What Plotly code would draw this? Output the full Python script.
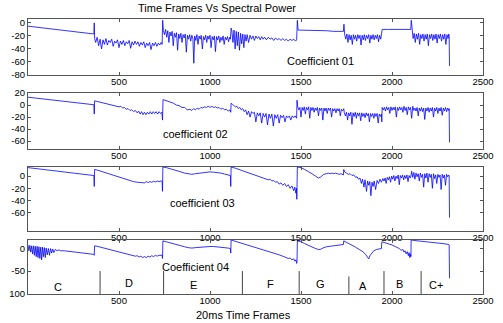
import plotly.graph_objects as go
from plotly.subplots import make_subplots

# ---------------- data (frame, spectral power) ----------------
coef1 = [
    (0, -5), (60, -7), (120, -9), (180, -10), (240, -12), (300, -14), (340, -16), (362, -17),
    (364, 0), (366, -24),
    (372, -30), (380, -22), (388, -35), (396, -25), (404, -40), (412, -26), (420, -33), (428, -24),
    (436, -34), (444, -27), (452, -30), (460, -25), (468, -36), (476, -28), (484, -31), (492, -26),
    (500, -38), (508, -28), (516, -33), (524, -27), (532, -35), (540, -29), (548, -32), (556, -27),
    (564, -39), (572, -29), (580, -34), (588, -28), (596, -33), (604, -29), (612, -36), (620, -30),
    (628, -34), (636, -29), (644, -38), (652, -31), (660, -35), (668, -30), (676, -41), (684, -31),
    (692, -35), (700, -30), (708, -36), (716, -31), (724, -34), (732, -30), (737, -33),
    (740, 4), (744, -12),
    (750, -18), (756, -10), (762, -22), (768, -12), (774, -30), (780, -14), (786, -20), (792, -13),
    (798, -35), (804, -16), (810, -22), (816, -15), (822, -42), (828, -17), (834, -24), (840, -16),
    (846, -30), (852, -18), (858, -23), (864, -17), (870, -45), (876, -19), (882, -25), (888, -18),
    (894, -28), (900, -19), (906, -24), (911, -62), (916, -20), (922, -27), (928, -18), (934, -33),
    (940, -20), (946, -25), (952, -19), (958, -40), (964, -21), (970, -26), (976, -19), (982, -30),
    (988, -20), (994, -25), (1000, -19), (1006, -38), (1012, -21), (1018, -26), (1024, -20),
    (1030, -44), (1036, -21), (1042, -26), (1048, -20), (1054, -30), (1060, -22), (1066, -27),
    (1072, -20), (1078, -33), (1084, -22), (1090, -26), (1096, -21), (1102, -29), (1108, -22),
    (1112, -25),
    (1116, -8), (1120, -12),
    (1126, -30), (1132, -11), (1138, -40), (1144, -13), (1150, -35), (1156, -14), (1162, -42),
    (1168, -16), (1174, -32), (1180, -17), (1186, -38), (1192, -18), (1198, -28), (1204, -18),
    (1212, -30), (1220, -19), (1228, -25), (1236, -20), (1244, -27), (1252, -20), (1260, -24),
    (1268, -21), (1276, -26), (1284, -21), (1292, -25), (1300, -22), (1310, -26), (1320, -22),
    (1330, -25), (1340, -23), (1350, -27), (1360, -23), (1370, -26), (1380, -24), (1390, -27),
    (1400, -24), (1410, -27), (1420, -25), (1430, -28), (1440, -25), (1450, -27), (1460, -25),
    (1470, -28), (1476, -26),
    (1480, 4), (1484, -11),
    (1520, -11), (1560, -12), (1600, -12), (1640, -12), (1680, -13), (1720, -13), (1733, -13),
    (1736, -2), (1740, -18),
    (1746, -25), (1752, -17), (1758, -30), (1764, -18), (1770, -26), (1776, -19), (1782, -33),
    (1788, -18), (1794, -25), (1800, -19), (1806, -28), (1812, -18), (1818, -24), (1824, -19),
    (1830, -34), (1836, -19), (1842, -26), (1848, -18), (1854, -27), (1860, -19), (1866, -24),
    (1872, -18), (1878, -31), (1884, -19), (1890, -25), (1896, -18), (1902, -26), (1908, -19),
    (1914, -24), (1920, -18), (1926, -29), (1932, -19), (1938, -25), (1942, -18),
    (1946, -10), (1980, -10), (2020, -10), (2060, -10), (2100, -10), (2103, -10),
    (2106, 4), (2110, -15),
    (2116, -24), (2122, -16), (2128, -30), (2134, -17), (2140, -25), (2146, -16), (2152, -33),
    (2158, -18), (2164, -24), (2170, -17), (2176, -28), (2182, -18), (2188, -25), (2194, -17),
    (2200, -35), (2206, -18), (2212, -24), (2218, -17), (2224, -27), (2230, -18), (2236, -25),
    (2242, -17), (2248, -31), (2254, -18), (2260, -24), (2266, -17), (2272, -28), (2278, -18),
    (2284, -25), (2290, -17), (2296, -33), (2302, -18), (2308, -24), (2312, -17),
    (2314, -20), (2316, -66),
]

coef2 = [
    (0, 13), (60, 11), (120, 9), (180, 7), (240, 5), (300, 3), (340, 1.5), (362, 0.5),
    (364, -15), (366, 7),
    (380, 6), (400, 4.5), (420, 3), (440, 1.5), (460, 0), (480, -1.5), (500, -3), (510, -2),
    (520, -5), (530, -4), (540, -7), (550, -6), (560, -9), (570, -8), (580, -11), (590, -9),
    (600, -13), (608, -10), (616, -15), (624, -11), (632, -16), (640, -12), (648, -16), (656, -12),
    (664, -15), (672, -11), (680, -15), (688, -11), (696, -14), (704, -11), (712, -15), (720, -11),
    (728, -14), (736, -12),
    (739, -25), (742, 9),
    (760, 7), (780, 5), (800, 3), (815, 0), (830, -1), (845, -4), (860, -4), (875, -8), (890, -7),
    (900, -9), (910, -6), (920, -8), (930, -5), (940, -7), (950, -4), (960, -5), (970, -3),
    (980, -4), (990, -2), (1000, -4), (1010, -2), (1020, -4), (1030, -3), (1040, -5), (1050, -4),
    (1060, -7), (1070, -5), (1080, -8), (1090, -7), (1100, -10), (1110, -8),
    (1114, -12), (1116, 3),
    (1124, 1), (1132, -1), (1140, -3), (1148, -2), (1156, -6), (1164, -4), (1172, -8), (1180, -6),
    (1188, -11), (1196, -8), (1204, -16), (1212, -10), (1220, -20), (1228, -11), (1236, -14),
    (1244, -12), (1252, -28), (1260, -13), (1268, -18), (1276, -13), (1284, -30), (1292, -14),
    (1300, -20), (1308, -14), (1316, -33), (1324, -15), (1332, -22), (1340, -15), (1348, -35),
    (1356, -16), (1364, -22), (1372, -16), (1380, -30), (1388, -17), (1396, -21), (1404, -17),
    (1412, -28), (1420, -18), (1428, -21), (1436, -18), (1444, -25), (1452, -18), (1460, -21),
    (1468, -18), (1476, -22),
    (1478, 8), (1482, -3),
    (1488, -8), (1494, -4), (1500, -20), (1506, -4), (1512, -9), (1518, -3), (1524, -15),
    (1530, -4), (1536, -8), (1542, -3), (1548, -22), (1554, -4), (1560, -9), (1566, -4),
    (1572, -12), (1578, -5), (1584, -9), (1590, -4), (1596, -18), (1602, -5), (1608, -9),
    (1614, -5), (1620, -25), (1626, -5), (1632, -10), (1638, -5), (1644, -14), (1650, -5),
    (1656, -9), (1662, -5), (1668, -20), (1674, -6), (1680, -10), (1686, -6), (1692, -13),
    (1698, -6), (1704, -10), (1710, -6), (1716, -18), (1722, -7), (1728, -10), (1733, -7),
    (1735, -6), (1738, -13),
    (1744, -18), (1750, -12), (1756, -25), (1762, -13), (1768, -18), (1774, -12), (1780, -32),
    (1786, -13), (1792, -19), (1798, -12), (1804, -22), (1810, -13), (1816, -18), (1822, -13),
    (1828, -26), (1834, -13), (1840, -19), (1846, -14), (1852, -21), (1858, -13), (1864, -18),
    (1870, -14), (1876, -28), (1882, -14), (1888, -19), (1894, -14), (1900, -22), (1906, -14),
    (1912, -19), (1918, -14), (1924, -30), (1930, -15), (1936, -19), (1942, -15),
    (1944, -28), (1946, -4),
    (1952, -8), (1958, -4), (1964, -10), (1970, -3), (1976, -8), (1982, -4), (1988, -14),
    (1994, -3), (2000, -9), (2006, -4), (2012, -8), (2018, -3), (2024, -20), (2030, -4),
    (2036, -9), (2042, -3), (2048, -8), (2054, -4), (2060, -12), (2066, -2), (2072, -9),
    (2078, -4), (2084, -16), (2090, -3), (2096, -8), (2102, -4), (2108, -22), (2114, -2),
    (2120, -9), (2126, -5), (2132, -10), (2138, -4), (2144, -18), (2150, -5), (2156, -10),
    (2162, -4), (2168, -11), (2174, -5), (2180, -24), (2186, -5), (2192, -10), (2198, -4),
    (2204, -12), (2210, -5), (2216, -10), (2222, -4), (2228, -20), (2234, -5), (2240, -10),
    (2246, -4), (2252, -14), (2258, -5), (2264, -10), (2270, -4), (2276, -17), (2282, -5),
    (2288, -10), (2294, -4), (2300, -11), (2306, -5), (2312, -9),
    (2314, -6), (2316, -62),
]

coef3 = [
    (0, 14), (60, 12), (120, 10), (180, 8), (240, 6), (300, 4), (340, 2), (362, 1),
    (364, -17), (366, 11),
    (380, 10), (400, 8), (420, 6), (440, 4), (460, 2), (480, 0), (500, -2), (520, -4), (540, -6),
    (560, -7), (580, -9), (600, -10), (620, -10.5), (640, -11), (650, -9), (660, -10.5), (670, -9),
    (680, -10), (690, -8.5), (700, -9.5), (710, -8), (720, -9), (730, -8), (737, -8.5),
    (739, -25), (741, 15),
    (760, 14), (780, 12.5), (800, 11), (820, 9), (840, 7), (860, 5), (880, 3.5), (900, 3),
    (920, 4), (940, 5), (960, 6), (980, 6.5), (1000, 7), (1020, 6.5), (1040, 6), (1060, 5),
    (1080, 3.5), (1100, 2), (1112, 1),
    (1114, -17), (1116, 15),
    (1140, 13), (1170, 10), (1200, 7), (1230, 4), (1260, 1), (1290, -2), (1310, -4), (1320, -6),
    (1330, -5), (1340, -8), (1350, -7), (1360, -10), (1370, -9), (1380, -13), (1390, -11),
    (1400, -15), (1410, -12), (1420, -17), (1430, -14), (1440, -20), (1450, -16), (1460, -24),
    (1466, -18), (1472, -28), (1476, -20),
    (1477, -38), (1480, 15),
    (1500, 14), (1520, 11), (1540, 8), (1560, 4), (1580, 0), (1595, -3), (1605, -2), (1615, 0),
    (1625, 3), (1640, 4), (1650, 5), (1660, 4), (1670, 5), (1680, 4), (1690, 5), (1700, 4),
    (1710, 3), (1720, 4), (1733, 2),
    (1735, 11),
    (1740, 7), (1750, 5), (1760, 3), (1770, 4), (1780, 1), (1790, 2), (1800, -2), (1808, -1),
    (1816, -5), (1824, -3), (1832, -12), (1838, -5), (1846, -18), (1852, -6), (1860, -25),
    (1866, -8), (1872, -15), (1878, -9), (1884, -32), (1890, -10), (1896, -17), (1902, -8),
    (1910, -22), (1918, -7), (1926, -12), (1934, -5), (1942, -10),
    (1950, -4), (1956, -8), (1962, -3), (1968, -12), (1974, -2), (1980, -6), (1986, -1),
    (1992, -10), (1998, 0), (2004, -5), (2010, 1), (2016, -8), (2022, 0), (2028, -4), (2034, 2),
    (2040, -14), (2046, 1), (2052, -3), (2058, 2), (2064, -6), (2070, 1), (2076, -4), (2082, 2),
    (2088, -9), (2094, 1), (2100, -3), (2104, 0),
    (2108, 8), (2114, -2), (2120, 6), (2126, -5), (2132, 5), (2138, -1), (2144, 4), (2150, -8),
    (2156, 5), (2162, -2), (2168, 3), (2174, -18), (2180, 4), (2186, -3), (2192, 5), (2198, -10),
    (2204, 4), (2210, -2), (2216, 3), (2222, -20), (2228, 4), (2234, -4), (2240, 2), (2246, -12),
    (2252, 3), (2258, -2), (2264, 2), (2270, -22), (2276, 3), (2282, -3), (2288, 2), (2294, -15),
    (2300, 3), (2306, -1), (2312, 2),
    (2314, 0), (2316, -68),
]

coef4 = [
    (0, 8), (5, -5), (10, 7), (15, -8), (20, 6), (25, -12), (30, 6), (35, -15), (40, 5),
    (45, -18), (50, 5), (55, -20), (60, 4), (65, -22), (70, 3), (75, -25), (80, 3), (85, -18),
    (90, 2), (95, -20), (100, 1), (106, -14), (112, 0), (118, -15), (124, 0), (130, -10),
    (136, -1), (142, -9), (150, -2), (160, -5), (170, -3), (180, -5), (200, -5), (220, -6),
    (240, -7), (260, -8), (280, -9), (300, -10), (320, -11), (340, -12), (362, -13),
    (364, -15), (366, 6),
    (380, 5), (400, 3), (420, 1), (440, -1), (460, -3), (480, -5), (500, -7), (520, -9),
    (540, -11), (560, -13), (580, -15), (590, -17), (600, -16), (610, -19), (620, -17),
    (630, -20), (640, -18), (650, -20), (660, -17), (670, -19), (680, -16), (690, -18),
    (700, -15), (710, -17), (720, -15), (730, -16), (737, -15),
    (739, -22), (741, 17),
    (760, 15), (780, 12.5), (800, 10), (820, 8), (840, 6), (860, 4), (880, 2), (900, 1),
    (920, 2), (940, 3), (960, 4), (980, 4.5), (1000, 4.5), (1020, 4.5), (1040, 4), (1060, 3),
    (1080, 2), (1100, 1), (1112, 0),
    (1114, -10), (1116, 19),
    (1140, 16), (1170, 13), (1200, 9), (1230, 6), (1260, 2), (1290, -2), (1320, -6), (1350, -10),
    (1380, -14), (1400, -17), (1420, -20), (1430, -22), (1440, -21), (1450, -25), (1460, -23),
    (1466, -28), (1472, -25), (1476, -33),
    (1478, -30), (1480, 17),
    (1500, 15), (1520, 11), (1540, 7), (1560, 3), (1580, 0), (1595, -2), (1605, -2), (1620, 1),
    (1640, 4), (1660, 5), (1680, 6), (1700, 7), (1720, 8), (1733, 9),
    (1735, 17),
    (1740, 16), (1760, 12), (1780, 8), (1800, 3), (1820, -2), (1840, -7), (1855, -13),
    (1865, -18), (1872, -23), (1880, -15), (1890, -9), (1900, -5), (1915, -2), (1930, 0),
    (1942, 0),
    (1944, 15),
    (1960, 13), (1980, 11), (2000, 8), (2020, 4), (2040, 0), (2050, -4), (2060, -2), (2066, -8),
    (2072, -5), (2078, -12), (2084, -7), (2090, -16), (2094, -9), (2098, -20), (2102, -12),
    (2104, -18),
    (2105, 19),
    (2120, 18), (2160, 16.5), (2200, 15), (2240, 13), (2280, 11), (2312, 9),
    (2314, 8), (2316, -66),
]

series = [coef1, coef2, coef3, coef4]
coef_labels = ["Coefficient 01", "coefficient 02", "coefficient 03", "Coefficient 04"]
coef_label_pos = [(1609, -58), (923, -48), (960, -44), (923, -40)]

y_ranges = [[-80, 6], [-73, 20], [-90, 15], [-101, 19]]
y_tickvals = [[0, -20, -40, -60, -80], [20, 0, -20, -40, -60], [0, -20, -40, -60], [0, -50, -100]]
y_ticktext = [["0", "-20", "-40", "-60", "-80"], ["20", "0", "-20", "-40", "-60"],
              ["0", "-20", "-40", "-60"], ["0", "-50", "100"]]
x_tickvals = [500, 1000, 1500, 2000, 2500]

# note segments (bottom panel)
note_bounds = [396, 745, 1178, 1490, 1763, 1956, 2160]
note_bound_tops = [-50, -50, -50, -50, -62, -50, -50]
note_names = ["C", "D", "E", "F", "G", "A", "B", "C+"]
note_name_x = [167, 557, 911, 1330, 1607, 1843, 2040, 2244]
note_name_y = [-86, -77, -82, -78, -79, -84, -78, -80]

# ---------------- figure ----------------
FONT = "Liberation Sans, Arial, sans-serif"
AX = "#555555"

fig = make_subplots(rows=4, cols=1, shared_xaxes=False, vertical_spacing=0.02)

domains = [[0.7964, 1.0], [0.5273, 0.7309], [0.2291, 0.4618], [0.0, 0.1964]]

for i, pts in enumerate(series):
    fig.add_trace(go.Scatter(x=[p[0] for p in pts], y=[p[1] for p in pts], mode="lines",
                             line=dict(color="#0000ff", width=0.8), showlegend=False,
                             hoverinfo="skip"), row=i + 1, col=1)

# boundary lines
bx, by = [], []
for b, t in zip(note_bounds, note_bound_tops):
    bx += [b, b, None]
    by += [t, -101, None]
fig.add_trace(go.Scatter(x=bx, y=by, mode="lines", line=dict(color="#444444", width=1),
                         showlegend=False, hoverinfo="skip"), row=4, col=1)

for i in range(4):
    xa = "xaxis" if i == 0 else f"xaxis{i+1}"
    ya = "yaxis" if i == 0 else f"yaxis{i+1}"
    fig.layout[xa].update(range=[0, 2500], tickvals=x_tickvals, showline=True, mirror="ticks",
                          linecolor=AX, linewidth=1, ticks="inside", ticklen=3, tickcolor=AX,
                          showgrid=False, zeroline=False, ticklabeloverflow="allow",
                          ticklabelstandoff=-2,
                          tickfont=dict(family=FONT, size=9.5, color="#000"))
    fig.layout[ya].update(range=y_ranges[i], tickvals=y_tickvals[i], ticktext=y_ticktext[i],
                          domain=domains[i], showline=True, mirror="ticks", linecolor=AX,
                          linewidth=1, ticks="inside", ticklen=3, tickcolor=AX,
                          showgrid=False, zeroline=False,
                          tickfont=dict(family=FONT, size=9.5, color="#000"))
    xr = "x" if i == 0 else f"x{i+1}"
    yr = "y" if i == 0 else f"y{i+1}"
    fig.add_annotation(x=coef_label_pos[i][0], y=coef_label_pos[i][1], xref=xr, yref=yr,
                       text=coef_labels[i], showarrow=False,
                       font=dict(family=FONT, size=11, color="#000"))

for name, nx, ny in zip(note_names, note_name_x, note_name_y):
    fig.add_annotation(x=nx, y=ny, xref="x4", yref="y4", text=name, showarrow=False,
                       font=dict(family=FONT, size=11, color="#000"))

fig.add_annotation(x=0.473, y=-0.076, xref="paper", yref="paper", text="20ms Time Frames",
                   showarrow=False, yanchor="middle",
                   font=dict(family=FONT, size=11, color="#000"))

fig.update_layout(
    width=503, height=323,
    margin=dict(l=28, r=9, t=19, b=29),
    paper_bgcolor="white", plot_bgcolor="white",
    title=dict(text="Time Frames Vs Spectral Power", x=217 / 503, y=1 - 8 / 323,
               xanchor="center", yanchor="middle",
               font=dict(family=FONT, size=11, color="#000")),
)

fig.write_html("out.html", config={"displayModeBar": False},
               post_script="document.body.style.margin='0';")
